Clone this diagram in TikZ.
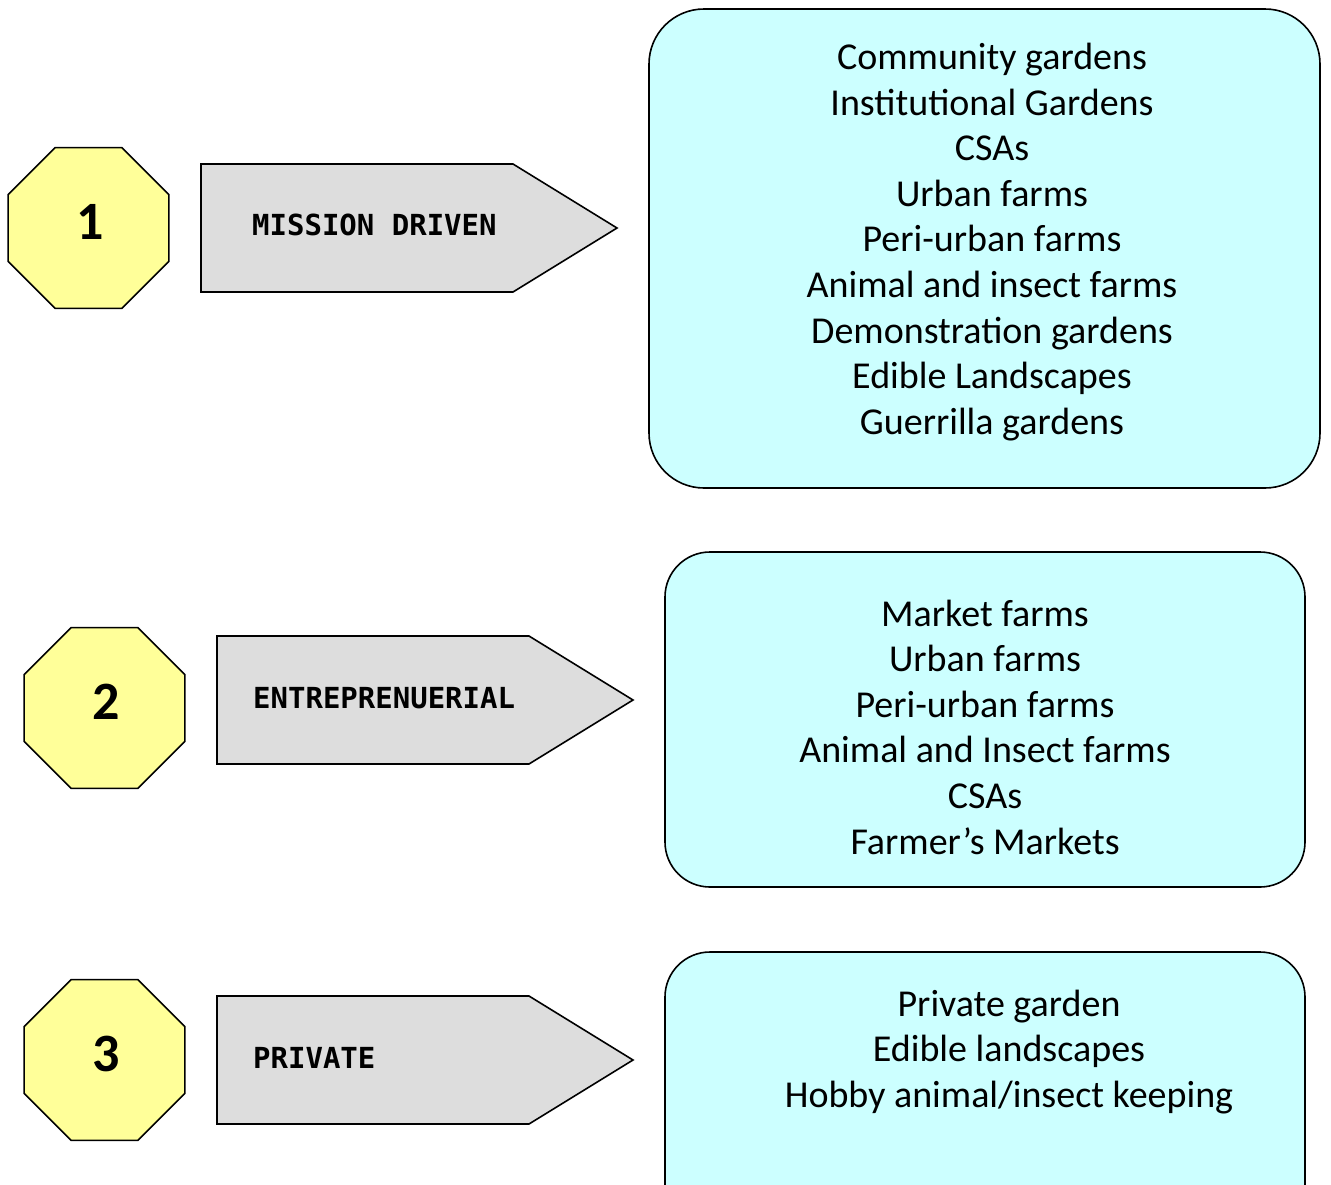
\documentclass[tikz,border=0pt]{standalone}
\usepackage{fontspec}
\usetikzlibrary{shapes.geometric}
\newfontfamily\monob{DejaVu Sans Mono}
\newfontfamily\boxfont{Carlito}
\definecolor{octyellow}{HTML}{FFFF99}
\definecolor{arrowgray}{HTML}{DDDDDD}
\definecolor{boxcyan}{HTML}{CCFFFF}
\tikzset{
  octo/.style={regular polygon, regular polygon sides=8, minimum size=174pt, inner sep=0pt, outer sep=0pt,
    draw=black, line width=1.6pt, fill=octyellow},
  numlabel/.style={inner sep=0pt, font=\boxfont\bfseries\fontsize{54}{60}\selectfont},
  arrowshape/.style={draw=black, line width=1.6pt, fill=arrowgray},
  arrowlabel/.style={anchor=west, inner sep=0pt, font=\monob\bfseries\fontsize{29}{34}\selectfont},
  listbox/.style={draw=black, line width=1.6pt, fill=boxcyan},
  listtext/.style={align=center, inner sep=0pt, font=\boxfont\fontsize{38}{45.6}\selectfont}
}
\begin{document}
\begin{tikzpicture}[x=1pt,y=-1pt]
\useasboundingbox (0,0) rectangle (1331,1184);
\clip (0,0) rectangle (1331,1184);
\fill[white] (0,0) rectangle (1331,1184);
% octagons
\node[octo] (o1) at (88.5,228) {};
\node[numlabel] (n1) at (90,222) {1};
\node[octo] (o2) at (104.5,708) {};
\node[numlabel] (n2) at (106,702) {2};
\node[octo] (o3) at (104.5,1060) {};
\node[numlabel] (n3) at (106,1054) {3};
% arrows
\draw[arrowshape] (201,164) -- (513,164) -- (617,228) -- (513,292) -- (201,292) -- cycle;
\node[arrowlabel] (a1) at (252,225) {MISSION DRIVEN};
\draw[arrowshape] (217,636) -- (529,636) -- (633,700) -- (529,764) -- (217,764) -- cycle;
\node[arrowlabel] (a2) at (253,698) {ENTREPRENUERIAL};
\draw[arrowshape] (217,996) -- (529,996) -- (633,1060) -- (529,1124) -- (217,1124) -- cycle;
\node[arrowlabel] (a3) at (253,1058) {PRIVATE};
% boxes
\draw[listbox, rounded corners=55pt] (649,9) rectangle (1320,488);
\node[listtext] (b1) at (992,242) {Community gardens\\Institutional Gardens\\CSAs\\Urban farms\\Peri-urban farms\\Animal and insect farms\\Demonstration gardens\\Edible Landscapes\\Guerrilla gardens};
\draw[listbox, rounded corners=45pt] (665,552) rectangle (1305,887);
\node[listtext] (b2) at (985,727) {Market farms\\Urban farms\\Peri-urban farms\\Animal and Insect farms\\CSAs\\Farmer’s Markets};
\draw[listbox, rounded corners=45pt] (665,952) rectangle (1305,1240);
\node[listtext] (b3) at (1009,1052) {Private garden\\Edible landscapes\\Hobby animal/insect keeping};
\end{tikzpicture}
\end{document}
